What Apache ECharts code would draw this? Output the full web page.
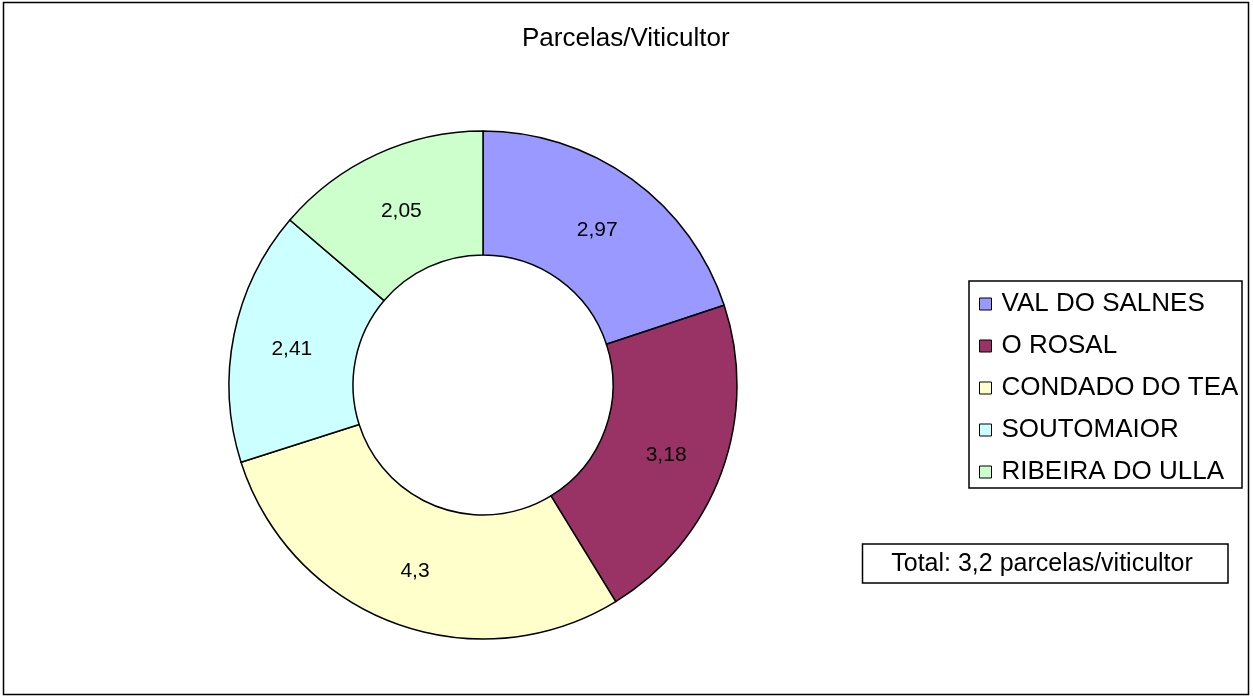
<!DOCTYPE html>
<html>
<head>
<meta charset="utf-8">
<script src="https://cdn.jsdelivr.net/npm/echarts@6/dist/echarts.min.js"></script>
<style>html,body{margin:0;padding:0;background:#fff;}#c{width:1253px;height:698px;}</style>
</head>
<body>
<div id="c"></div>
<script>
const titleText = 'Parcelas/Viticultor';
const categories = ['VAL DO SALNES', 'O ROSAL', 'CONDADO DO TEA', 'SOUTOMAIOR', 'RIBEIRA DO ULLA'];
const values = [2.97, 3.18, 4.3, 2.41, 2.05];
const colors = ['#9999FF', '#993366', '#FFFFCC', '#CCFFFF', '#CCFFCC'];
const totalText = 'Total: 3,2 parcelas/viticultor';

const FONT = '"Liberation Sans", Arial, sans-serif';
const chart = echarts.init(document.getElementById('c'), null, {renderer: 'canvas'});
chart.setOption({
  animation: false,
  backgroundColor: '#fff',
  title: {
    text: titleText,
    left: 517,
    top: 21,
    textStyle: {fontFamily: FONT, fontSize: 26, fontWeight: 'normal', color: '#000'}
  },
  legend: {
    orient: 'vertical',
    left: 974,
    top: 286,
    selectedMode: false,
    icon: 'rect',
    itemWidth: 12,
    itemHeight: 12,
    itemGap: 16,
    itemStyle: {borderColor: '#000', borderWidth: 1},
    textStyle: {fontFamily: FONT, fontSize: 26, color: '#000', lineHeight: 26, padding: [0, 0, 0, 5]},
    data: categories
  },
  graphic: [
    {type: 'rect', shape: {x: 3.5, y: 2.5, width: 1245, height: 692}, style: {fill: 'none', stroke: '#000', lineWidth: 1.5}, silent: true},
    {type: 'rect', shape: {x: 969, y: 281, width: 273, height: 207}, style: {fill: 'none', stroke: '#000', lineWidth: 1.5}, silent: true},
    {type: 'rect', shape: {x: 862.5, y: 544, width: 365.5, height: 39}, style: {fill: '#fff', stroke: '#000', lineWidth: 1.5}, silent: true},
    {type: 'text', x: 1042, y: 564, style: {text: totalText, font: '25px ' + FONT, fill: '#000', textAlign: 'center', textVerticalAlign: 'middle'}, silent: true}
  ],
  series: [{
    type: 'pie',
    center: [483, 385],
    radius: [130, 254],
    startAngle: 90,
    clockwise: true,
    avoidLabelOverlap: false,
    itemStyle: {borderColor: '#000', borderWidth: 1.5},
    label: {
      show: true,
      position: 'inside',
      offset: [0, 3],
      fontFamily: FONT,
      fontSize: 21,
      color: '#000',
      formatter: p => String(p.value).replace('.', ',')
    },
    labelLine: {show: false},
    emphasis: {disabled: true},
    data: categories.map((n, i) => ({name: n, value: values[i], itemStyle: {color: colors[i]}}))
  }]
});
</script>
</body>
</html>
